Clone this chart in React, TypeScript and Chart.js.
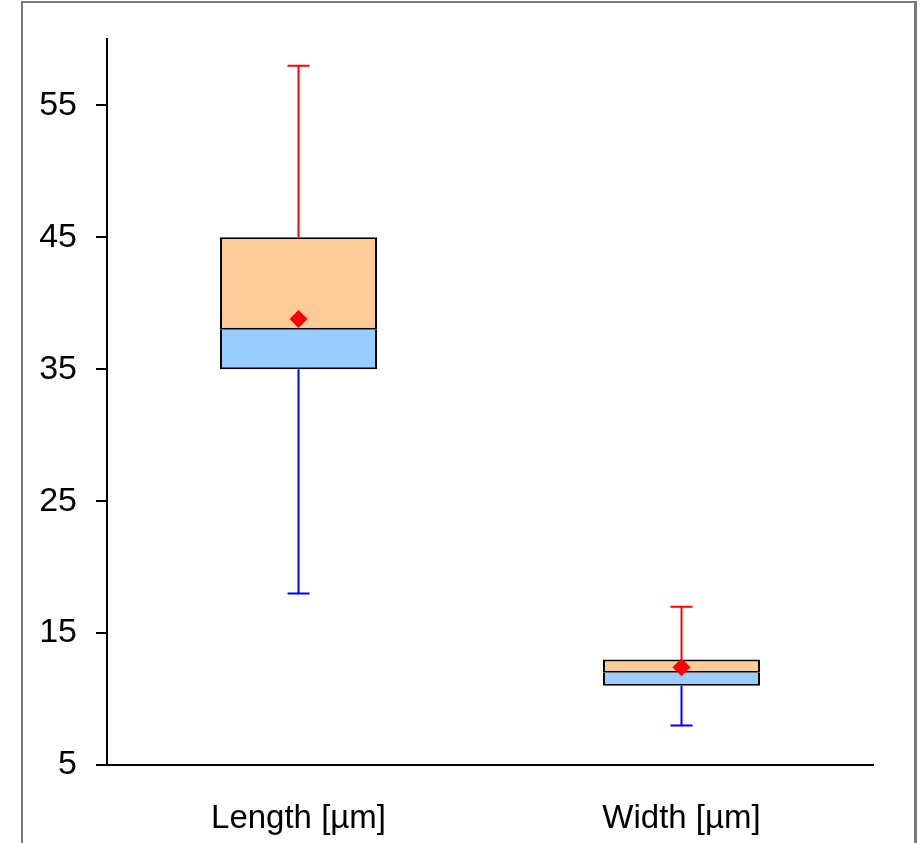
import React, { useEffect, useRef } from "react";
import { Chart, registerables } from "chart.js";

Chart.register(...registerables);

const categories = ["Length [µm]", "Width [µm]"];
const whiskerMin = [18, 8];
const q1 = [35, 11];
const median = [38, 12];
const q3 = [45, 13];
const whiskerMax = [58, 17];
const mean = [38.8, 12.4];
const yTicks = [5, 15, 25, 35, 45, 55];
const yMin = 5;
const yMax = 60;

const whiskerPlugin = {
  id: "whiskers",
  beforeDatasetsDraw(chart: any) {
    const ctx = chart.ctx;
    const xs = chart.scales.x;
    const ys = chart.scales.y;
    ctx.save();
    ctx.lineWidth = 2;
    categories.forEach((_, i) => {
      const x = xs.getPixelForValue(i);
      const capHalf = 11;
      ctx.strokeStyle = "#ff0000";
      const yTop = ys.getPixelForValue(whiskerMax[i]);
      const yQ3 = ys.getPixelForValue(q3[i]);
      ctx.beginPath();
      ctx.moveTo(x, yQ3);
      ctx.lineTo(x, yTop);
      ctx.moveTo(x - capHalf, yTop);
      ctx.lineTo(x + capHalf, yTop);
      ctx.stroke();
      ctx.strokeStyle = "#0000ff";
      const yBot = ys.getPixelForValue(whiskerMin[i]);
      const yQ1 = ys.getPixelForValue(q1[i]);
      ctx.beginPath();
      ctx.moveTo(x, yQ1);
      ctx.lineTo(x, yBot);
      ctx.moveTo(x - capHalf, yBot);
      ctx.lineTo(x + capHalf, yBot);
      ctx.stroke();
    });
    ctx.restore();
  },
};

export default function App() {
  const ref = useRef<HTMLCanvasElement>(null);
  useEffect(() => {
    if (!ref.current) return;
    const chart = new Chart(ref.current, {
      type: "bar",
      data: {
        labels: categories,
        datasets: [
          {
            type: "line",
            label: "Mean",
            data: mean,
            showLine: false,
            pointStyle: "rectRot",
            pointRadius: 9,
            pointBackgroundColor: "#ff0000",
            pointBorderColor: "#ff0000",
            pointBorderWidth: 0,
            order: 0,
          } as any,
          {
            label: "Upper",
            data: categories.map((_, i) => [median[i], q3[i]]),
            backgroundColor: "#ffcc99",
            borderColor: "#000000",
            borderWidth: { top: 2, bottom: 2, left: 2, right: 2 },
            borderSkipped: false,
            grouped: false,
            barPercentage: 0.41,
            categoryPercentage: 1,
            order: 1,
          } as any,
          {
            label: "Lower",
            data: categories.map((_, i) => [q1[i], median[i]]),
            backgroundColor: "#99ccff",
            borderColor: "#000000",
            borderWidth: { top: 0, bottom: 2, left: 2, right: 2 },
            borderSkipped: false,
            grouped: false,
            barPercentage: 0.41,
            categoryPercentage: 1,
            order: 2,
          } as any,
        ],
      },
      options: {
        animation: false,
        responsive: false,
        maintainAspectRatio: false,
        layout: { padding: { left: 0, right: 50, top: 39, bottom: 0 } },
        plugins: {
          legend: { display: false },
          tooltip: { enabled: false },
        },
        scales: {
          x: {
            type: "category",
            offset: true,
            grid: { display: false, drawTicks: false },
            border: { display: true, color: "#000000", width: 2 },
            ticks: {
              color: "#000000",
              font: { family: "'Liberation Sans', Arial, sans-serif", size: 33 },
              padding: 34,
            },
            afterFit(scale: any) {
              scale.height = 78;
            },
          },
          y: {
            type: "linear",
            min: yMin,
            max: yMax,
            afterBuildTicks(scale: any) {
              scale.ticks = yTicks.map((v) => ({ value: v }));
            },
            grid: {
              display: true,
              drawOnChartArea: false,
              drawTicks: true,
              tickLength: 11,
              color: "#000000",
              lineWidth: 2,
            },
            border: { display: true, color: "#000000", width: 2 },
            ticks: {
              color: "#000000",
              font: { family: "'Liberation Sans', Arial, sans-serif", size: 34 },
              padding: 19,
            },
            afterFit(scale: any) {
              scale.width = 107;
            },
          },
        },
      },
      plugins: [whiskerPlugin],
    });
    return () => chart.destroy();
  }, []);

  return (
    <div
      style={{
        position: "absolute",
        left: 0,
        top: 0,
        width: 923,
        height: 843,
        overflow: "hidden",
        background: "#ffffff",
      }}
    >
      <div
        style={{
          position: "absolute",
          left: 21,
          top: 1,
          width: 891,
          height: 900,
          borderTop: "2px solid #7a7a7a",
          borderLeft: "2px solid #7a7a7a",
          borderRight: "3px solid #7a7a7a",
        }}
      />
      <canvas
        ref={ref}
        width={923}
        height={843}
        style={{ position: "absolute", left: 0, top: 0, width: 923, height: 843 }}
      />
    </div>
  );
}
